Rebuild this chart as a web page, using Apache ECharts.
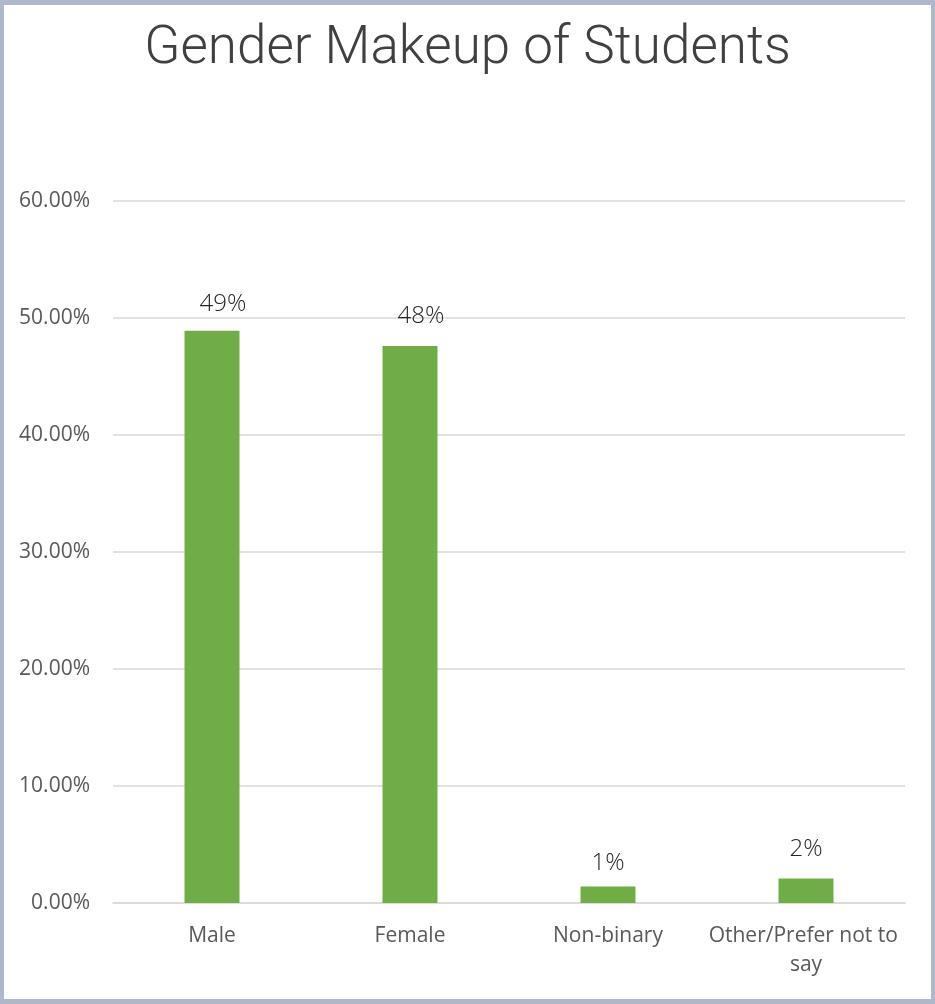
<!DOCTYPE html>
<html>
<head>
<meta charset="utf-8">
<script src="https://cdn.jsdelivr.net/npm/echarts@6/dist/echarts.min.js"></script>
<style>
html,body{margin:0;padding:0;background:#fff;}
#chart{position:absolute;left:0;top:0;width:935px;height:1004px;}
#frame{position:absolute;left:0;top:0;width:935px;height:1004px;box-sizing:border-box;border-style:solid;border-color:#ADB9CA;border-width:5px 4px 5px 4px;pointer-events:none;}
</style>
</head>
<body>
<div id="chart"></div>
<div id="frame"></div>
<script>
const titleText = 'Gender Makeup of Students';
const categories = ['Male', 'Female', 'Non-binary', 'Other/Prefer not to say'];
const shares = [48.9, 47.6, 1.4, 2.1];
const shareLabels = ['49%', '48%', '1%', '2%'];
const yMin = 0, yMax = 60, yStep = 10;

// label placement tweaks (style only, not data)
const labelLayout = [
  {dx: 11, dist: 15},
  {dx: 11, dist: 18},
  {dx: 0, dist: 11},
  {dx: 0, dist: 17}
];

const chart = echarts.init(document.getElementById('chart'));
chart.setOption({
  animation: false,
  backgroundColor: '#ffffff',
  title: {
    text: titleText,
    left: 'center',
    top: 18,
    textStyle: {fontFamily: 'Roboto', fontWeight: 300, fontSize: 53, color: '#404040'}
  },
  grid: {left: 113, right: 30, top: 201, bottom: 101, containLabel: false},
  xAxis: {
    type: 'category',
    data: categories,
    axisLine: {show: true, lineStyle: {color: '#D9D9D9', width: 1.5}},
    axisTick: {show: false},
    axisLabel: {
      interval: 0, margin: 19, fontFamily: 'Open Sans', fontSize: 21, color: '#595959',
      width: 196, overflow: 'break', lineHeight: 29
    }
  },
  yAxis: {
    type: 'value',
    min: yMin, max: yMax, interval: yStep,
    axisLine: {show: false},
    axisTick: {show: false},
    splitLine: {lineStyle: {color: '#D9D9D9', width: 1.5}},
    axisLabel: {
      margin: 23, fontFamily: 'Open Sans', fontSize: 21, color: '#595959',
      formatter: v => v.toFixed(2) + '%'
    }
  },
  series: [{
    type: 'bar',
    data: shares.map((v, i) => ({
      value: v,
      label: {offset: [labelLayout[i].dx, 0], distance: labelLayout[i].dist}
    })),
    barWidth: 55,
    itemStyle: {color: '#70AD47'},
    label: {
      show: true, position: 'top', distance: 15,
      fontFamily: 'Open Sans', fontWeight: 300, fontSize: 24, color: '#262626',
      formatter: p => shareLabels[p.dataIndex]
    }
  }]
});
</script>
</body>
</html>
